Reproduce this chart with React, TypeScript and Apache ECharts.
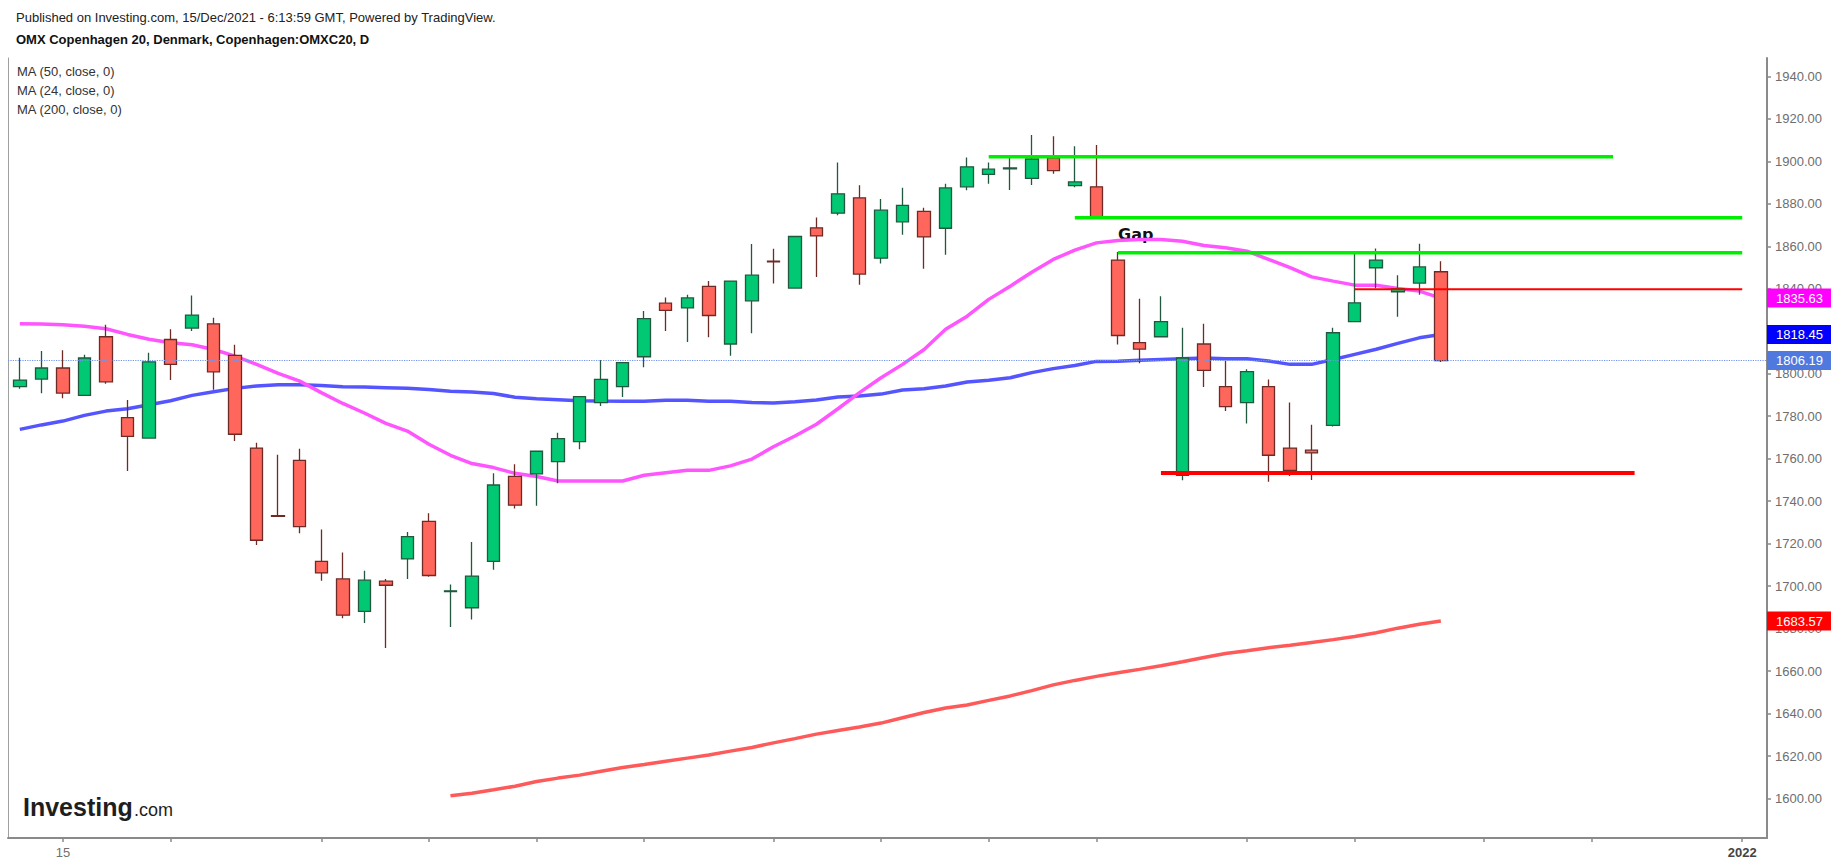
import React, { useEffect, useRef } from "react";
import * as echarts from "echarts";

// ---- data (bar index 0 = 15 Sep 2021; first candle is bar -2) ----
const FIRST_BAR = -2;
const OPEN = [1793.9,1797.5,1802.7,1789.8,1817.4,1779.3,1769.7,1816.1,1821.5,1823.5,1808.6,1765.0,1733.2,1759.2,1711.6,1703.4,1688.1,1702.3,1712.8,1730.5,1697.4,1689.8,1711.6,1751.7,1752.8,1758.6,1768.0,1786.4,1793.9,1808.0,1833.2,1831.0,1841.1,1814.0,1834.3,1853.0,1840.3,1868.7,1875.6,1882.8,1854.4,1871.5,1876.4,1868.5,1888.0,1893.9,1896.5,1892.0,1901.6,1888.6,1888.0,1853.5,1814.6,1817.4,1752.2,1814.0,1793.9,1786.4,1793.9,1765.0,1764.0,1775.7,1824.5,1849.9,1838.6,1842.7,1848.0];
const CLOSE = [1797.0,1802.7,1790.9,1807.4,1796.2,1770.5,1805.6,1804.4,1827.6,1800.9,1771.5,1721.6,1732.8,1728.0,1706.2,1686.3,1702.8,1700.4,1723.3,1705.0,1697.8,1704.7,1747.6,1738.1,1763.5,1769.4,1789.2,1797.3,1805.2,1825.9,1829.8,1835.7,1827.4,1843.6,1846.4,1852.7,1864.6,1864.9,1884.7,1846.9,1877.0,1879.3,1864.4,1887.5,1897.4,1896.3,1896.9,1901.1,1895.6,1890.3,1873.8,1818.0,1811.6,1824.5,1807.4,1801.6,1784.5,1801.0,1761.6,1754.5,1762.7,1819.3,1833.4,1853.5,1840.0,1850.3,1806.19];
const LOW = [1792.9,1790.8,1788.4,1789.5,1795.3,1754.2,1769.4,1797.0,1820.1,1792.5,1768.3,1719.4,1732.6,1724.9,1702.5,1684.9,1682.6,1670.8,1703.3,1704.4,1680.8,1684.3,1707.7,1736.5,1737.8,1748.4,1764.4,1784.8,1789.0,1803.1,1820.1,1814.9,1817.2,1808.5,1819.0,1842.5,1840.1,1845.5,1874.6,1841.9,1851.9,1865.4,1849.4,1856.0,1886.4,1889.5,1886.5,1888.9,1894.2,1887.8,1873.2,1813.7,1804.9,1817.2,1749.8,1793.7,1782.4,1776.6,1749.1,1751.9,1750.0,1775.1,1824.3,1840.2,1826.8,1837.2,1805.5];
const HIGH = [1807.5,1810.7,1811.1,1808.9,1823.0,1787.6,1809.9,1820.9,1836.8,1826.3,1813.6,1767.5,1761.9,1764.7,1726.6,1715.8,1707.2,1703.3,1725.5,1734.3,1700.7,1720.8,1753.1,1757.4,1763.8,1772.2,1789.5,1806.4,1805.4,1829.5,1835.9,1837.2,1843.7,1843.8,1861.1,1858.8,1864.8,1873.5,1899.4,1888.7,1882.3,1887.6,1878.1,1889.5,1901.8,1899.4,1901.8,1912.4,1911.8,1907.1,1907.7,1857.3,1835.3,1836.5,1821.6,1823.5,1806.0,1802.1,1797.3,1786.4,1776.0,1821.6,1856.9,1859.0,1846.4,1861.2,1852.9];

const MA24 = [1823.5,1823.4,1823.0,1822.4,1821.2,1818.5,1816.2,1814.6,1813.6,1811.4,1808.3,1804.4,1800.2,1796.5,1791.1,1786.0,1781.5,1776.6,1773.0,1766.8,1761.6,1757.7,1755.8,1753.1,1751.6,1749.5,1749.5,1749.5,1749.5,1752.2,1753.4,1754.5,1754.5,1756.6,1759.8,1765.6,1770.7,1776.2,1783.5,1791.1,1798.1,1804.4,1811.4,1820.9,1827.1,1835.0,1841.2,1847.8,1853.8,1858.2,1861.6,1862.7,1863.2,1863.2,1862.4,1860.4,1859.3,1857.7,1853.8,1849.9,1845.6,1843.6,1841.7,1841.7,1840.1,1838.9,1835.63];
const MA50 = [1773.8,1775.9,1777.7,1780.4,1782.4,1783.5,1785.4,1787.3,1789.8,1791.5,1793.1,1794.2,1794.8,1794.8,1794.5,1793.9,1793.7,1793.4,1793.1,1792.6,1791.8,1791.4,1790.7,1788.9,1788.2,1787.8,1787.3,1787.1,1787.0,1787.0,1787.5,1787.5,1787.0,1787.0,1786.4,1786.2,1786.8,1787.6,1789.0,1789.5,1790.4,1792.3,1792.9,1794.2,1796.1,1796.9,1798.1,1800.5,1802.4,1803.9,1805.8,1805.9,1806.3,1806.7,1807.1,1807.4,1807.1,1807.1,1806.0,1804.4,1804.4,1806.7,1809.1,1811.5,1814.3,1816.9,1818.45];
const MA200_FIRST_BAR = 18;
const MA200 = [1601.3,1602.5,1604.1,1605.8,1608.0,1609.6,1611.0,1612.8,1614.6,1616.0,1617.5,1619.0,1620.5,1622.3,1624.0,1626.2,1628.2,1630.3,1632.0,1633.7,1635.5,1638.0,1640.5,1642.6,1644.0,1646.2,1648.3,1650.8,1653.5,1655.6,1657.5,1659.2,1660.8,1662.5,1664.4,1666.4,1668.3,1669.6,1671.0,1672.2,1673.5,1674.8,1676.3,1678.0,1680.2,1682.0,1683.57];

const LAST_CLOSE = 1806.19;
const LAST_MA24 = 1835.63;
const LAST_MA50 = 1818.45;
const LAST_MA200 = 1683.57;

// drawn horizontal levels: [fromBar, toBar, value]
const LEVEL_GREEN_1 = [43, 72, 1902.1];
const LEVEL_GREEN_2 = [47, 78, 1873.4];
const LEVEL_GREEN_3 = [49, 78, 1857.0];
const LEVEL_RED_THIN = [60, 78, 1839.8];
const LEVEL_RED_THICK = [51, 73, 1753.3];

const X_TICKS = [0, 5, 12, 17, 22, 27, 33, 38, 43, 48, 55, 60, 66, 71, 78];
const X_LABEL_BARS = [0, 78];
const X_LABEL_TEXT = ["15", "2022"];
const Y_TICKS = [1600, 1620, 1640, 1660, 1680, 1700, 1720, 1740, 1760, 1780, 1800, 1820, 1840, 1860, 1880, 1900, 1920, 1940];

const FONT = "'Liberation Sans', Arial, sans-serif";

export default function App() {
  const ref = useRef<HTMLDivElement>(null);

  useEffect(() => {
    if (!ref.current) return;
    const chart = echarts.init(ref.current, null, { renderer: "svg" });

    const candles = OPEN.map((o, i) => [FIRST_BAR + i, o, CLOSE[i], LOW[i], HIGH[i]]);
    const ma24 = MA24.map((v, i) => [FIRST_BAR + i, v]);
    const ma50 = MA50.map((v, i) => [FIRST_BAR + i, v]);
    const ma200 = MA200.map((v, i) => [MA200_FIRST_BAR + i, v]);

    const endLabel = (bg: string) => ({
      show: true,
      position: "end",
      distance: 0,
      formatter: (p: any) => Number(p.value).toFixed(2),
      color: "#ffffff",
      backgroundColor: bg,
      padding: [3, 8, 3, 9],
      fontSize: 13,
      fontFamily: FONT,
    });
    const hiddenMark = (value: number, bg: string) => ({
      symbol: "none",
      silent: true,
      animation: false,
      lineStyle: { width: 0, color: "transparent" },
      label: endLabel(bg),
      data: [{ yAxis: value }],
    });

    const level = (lv: number[], color: string, width: number) => ({
      type: "line",
      data: [[lv[0], lv[2]], [lv[1], lv[2]]],
      showSymbol: false,
      symbol: "none",
      silent: true,
      z: 5,
      lineStyle: { color, width, cap: "butt" },
    });

    chart.setOption({
      animation: false,
      backgroundColor: "#ffffff",
      grid: { left: 8, right: 70, top: 58, bottom: 28, containLabel: false },
      xAxis: {
        type: "value",
        min: -2.55,
        max: 79.15,
        splitLine: { show: false },
        axisLine: { show: true, onZero: false, lineStyle: { color: "#8a8a8a", width: 2 } },
        axisTick: {
          show: true,
          customValues: X_TICKS,
          length: 4,
          lineStyle: { color: "#8a8a8a", width: 1.5 },
        },
        axisLabel: {
          show: true,
          customValues: X_LABEL_BARS,
          margin: 8,
          fontSize: 13,
          fontFamily: FONT,
          color: "#707070",
          formatter: (v: number) => {
            const idx = X_LABEL_BARS.indexOf(Math.round(v));
            if (idx < 0) return "";
            return idx === 1 ? "{b|" + X_LABEL_TEXT[idx] + "}" : X_LABEL_TEXT[idx];
          },
          rich: { b: { fontWeight: "bold", color: "#444444", fontSize: 13, fontFamily: FONT } },
        },
      },
      yAxis: [
        {
          type: "value",
          position: "right",
          min: 1581.4,
          max: 1948.65,
          splitLine: { show: false },
          axisLine: { show: true, onZero: false, lineStyle: { color: "#8a8a8a", width: 2 } },
          axisTick: {
            show: true,
            customValues: Y_TICKS,
            length: 4,
            lineStyle: { color: "#8a8a8a", width: 1.5 },
          },
          axisLabel: {
            show: true,
            customValues: Y_TICKS,
            margin: 8,
            fontSize: 13,
            fontFamily: FONT,
            color: "#6e6e6e",
            formatter: (v: number) => v.toFixed(2),
          },
        },
        {
          type: "value",
          position: "left",
          min: 1581.4,
          max: 1948.65,
          splitLine: { show: false },
          axisLine: { show: true, onZero: false, lineStyle: { color: "#a0a0a0", width: 1 } },
          axisTick: { show: false },
          axisLabel: { show: false },
        },
      ],
      series: [
        {
          name: "MA200",
          type: "line",
          data: ma200,
          showSymbol: false,
          symbol: "none",
          z: 2,
          lineStyle: { color: "#ff5a5a", width: 3.5 },
          markLine: hiddenMark(LAST_MA200, "#ff0000"),
        },
        {
          name: "MA50",
          type: "line",
          data: ma50,
          showSymbol: false,
          symbol: "none",
          z: 2,
          lineStyle: { color: "#5555ff", width: 3.5 },
          markLine: hiddenMark(LAST_MA50, "#0000ff"),
        },
        {
          name: "MA24",
          type: "line",
          data: ma24,
          showSymbol: false,
          symbol: "none",
          z: 2,
          lineStyle: { color: "#ff55ff", width: 3.5 },
          markLine: hiddenMark(LAST_MA24, "#ff00ff"),
        },
        {
          name: "OMXC20",
          type: "candlestick",
          data: candles,
          encode: { x: 0, y: [1, 2, 3, 4] },
          barWidth: 13,
          z: 3,
          itemStyle: {
            color: "#00c873",
            color0: "#ff675c",
            borderColor: "#22583f",
            borderColor0: "#6e2b26",
            borderWidth: 1.3,
          },
          markLine: {
            symbol: "none",
            silent: true,
            animation: false,
            lineStyle: { color: "#7394ec", type: "dotted", width: 1.2 },
            label: endLabel("#5079e0"),
            data: [{ yAxis: LAST_CLOSE }],
          },
        },
        level(LEVEL_GREEN_1, "#00ee00", 3.5),
        level(LEVEL_GREEN_2, "#00ee00", 3.5),
        level(LEVEL_GREEN_3, "#00ee00", 3.5),
        level(LEVEL_RED_THIN, "#ff0000", 2),
        level(LEVEL_RED_THICK, "#ff0000", 4),
      ],
      graphic: [
        {
          type: "text",
          left: 16,
          top: 11,
          style: {
            text: "Published on Investing.com, 15/Dec/2021 - 6:13:59 GMT, Powered by TradingView.",
            font: "13px " + FONT,
            fill: "#222222",
          },
        },
        {
          type: "text",
          left: 16,
          top: 33,
          style: {
            text: "OMX Copenhagen 20, Denmark, Copenhagen:OMXC20, D",
            font: "bold 13px " + FONT,
            fill: "#111111",
          },
        },
        {
          type: "text",
          left: 17,
          top: 65,
          style: { text: "MA (50, close, 0)", font: "13px " + FONT, fill: "#333333" },
        },
        {
          type: "text",
          left: 17,
          top: 84,
          style: { text: "MA (24, close, 0)", font: "13px " + FONT, fill: "#333333" },
        },
        {
          type: "text",
          left: 17,
          top: 103,
          style: { text: "MA (200, close, 0)", font: "13px " + FONT, fill: "#333333" },
        },
        {
          type: "text",
          left: 1118,
          top: 226,
          style: { text: "Gap", font: "bold 16px 'DejaVu Sans', Verdana, sans-serif", fill: "#111111" },
        },
        {
          type: "text",
          left: 23,
          top: 794,
          style: { text: "Investing", font: "bold 25px " + FONT, fill: "#1e1e1e" },
        },
        {
          type: "text",
          left: 134,
          top: 801,
          style: { text: ".com", font: "18px " + FONT, fill: "#1e1e1e" },
        },
      ],
    });

    return () => chart.dispose();
  }, []);

  return (
    <div
      ref={ref}
      style={{ position: "fixed", left: 0, top: 0, width: 1837, height: 866, background: "#fff" }}
    />
  );
}
